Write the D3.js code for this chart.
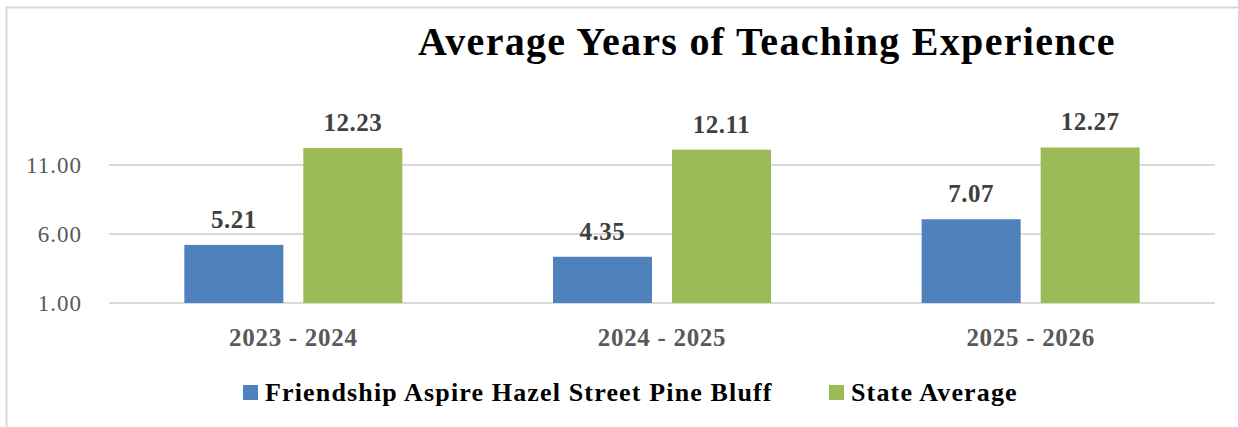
<!DOCTYPE html>
<html>
<head>
<meta charset="utf-8">
<script src="https://cdn.jsdelivr.net/npm/d3@7"></script>
<style>
body { margin: 0; background: #fff; }
text { font-family: "Liberation Serif", "Times New Roman", serif; }
</style>
</head>
<body>
<script>
var w = 1238;
var h = 427;

var years = ["2023 - 2024", "2024 - 2025", "2025 - 2026"];
var series = ["Friendship Aspire Hazel Street Pine Bluff", "State Average"];
var school = [5.21, 4.35, 7.07];
var state = [12.23, 12.11, 12.27];
var yTicks = [1, 6, 11];
var colors = ["#4f81bd", "#9bbb59"];

var svg = d3.select("body").append("svg")
	.attr("width", w)
	.attr("height", h);

// chart frame
svg.append("path")
	.attr("d", "M6.5," + h + "V7.5H" + w)
	.attr("fill", "none")
	.attr("stroke", "#d9d9d9")
	.attr("stroke-width", 2);

var x = d3.scaleBand().domain(years).range([109, 1215]);
var bw = x.bandwidth();
var x1 = d3.scaleBand().domain(series)
	.range([(bw - 218) / 2, (bw + 218) / 2])
	.paddingInner(0.168);
var y = d3.scaleLinear().domain([1, 16]).range([303, 96]);

svg.append("text")
	.attr("x", 767)
	.attr("y", 55)
	.attr("text-anchor", "middle")
	.attr("font-size", 40)
	.attr("font-weight", "bold")
	.attr("letter-spacing", 1.3)
	.attr("fill", "#000")
	.text("Average Years of Teaching Experience");

// gridlines
svg.append("g").selectAll("line")
	.data(yTicks)
	.enter().append("line")
	.attr("x1", 109)
	.attr("x2", 1215)
	.attr("y1", function(d) { return y(d); })
	.attr("y2", function(d) { return y(d); })
	.attr("stroke", "#d9d9d9")
	.attr("stroke-width", 2);

var yAxis = svg.append("g")
	.attr("transform", "translate(82,0)")
	.call(d3.axisLeft(y).tickValues(yTicks).tickFormat(d3.format(".2f")).tickSize(0).tickPadding(0));
yAxis.select(".domain").remove();
yAxis.selectAll("text")
	.attr("font-size", 23)
	.attr("letter-spacing", 1)
	.attr("fill", "#595959")
	.attr("font-family", "Liberation Serif, serif");

var rows = years.map(function(yr, i) {
	return { year: yr, vals: [school[i], state[i]] };
});

var group = svg.append("g").selectAll("g")
	.data(rows)
	.enter().append("g")
	.attr("transform", function(d) { return "translate(" + x(d.year) + ",0)"; });

group.selectAll("rect")
	.data(function(d) { return d.vals; })
	.enter().append("rect")
	.attr("x", function(d, i) { return x1(series[i]); })
	.attr("width", x1.bandwidth())
	.attr("y", function(d) { return y(d); })
	.attr("height", function(d) { return y(1) - y(d); })
	.attr("fill", function(d, i) { return colors[i]; });

group.selectAll(".lbl")
	.data(function(d) { return d.vals; })
	.enter().append("text")
	.attr("class", "lbl")
	.attr("x", function(d, i) { return x1(series[i]) + x1.bandwidth() / 2; })
	.attr("y", function(d) { return y(d) - 17; })
	.attr("text-anchor", "middle")
	.attr("font-size", 25)
	.attr("font-weight", "bold")
	.attr("letter-spacing", 0.5)
	.attr("fill", "#404040")
	.text(function(d) { return d.toFixed(2); });

var xAxis = svg.append("g")
	.attr("transform", "translate(0,303)")
	.call(d3.axisBottom(x).tickSize(0).tickPadding(0));
xAxis.select(".domain").remove();
xAxis.selectAll("text")
	.attr("y", 43)
	.attr("dy", 0)
	.attr("font-size", 25)
	.attr("font-weight", "bold")
	.attr("letter-spacing", 0.7)
	.attr("fill", "#595959")
	.attr("font-family", "Liberation Serif, serif");

// legend
var legX = [243, 829];
var leg = svg.append("g").selectAll("g")
	.data(series)
	.enter().append("g")
	.attr("transform", function(d, i) { return "translate(" + legX[i] + ",385)"; });
leg.append("rect")
	.attr("width", 15)
	.attr("height", 15)
	.attr("fill", function(d, i) { return colors[i]; });
leg.append("text")
	.attr("x", 22)
	.attr("y", 16)
	.attr("font-size", 26)
	.attr("font-weight", "bold")
	.attr("letter-spacing", 1.15)
	.attr("fill", "#000")
	.text(function(d) { return d; });
</script>
</body>
</html>
